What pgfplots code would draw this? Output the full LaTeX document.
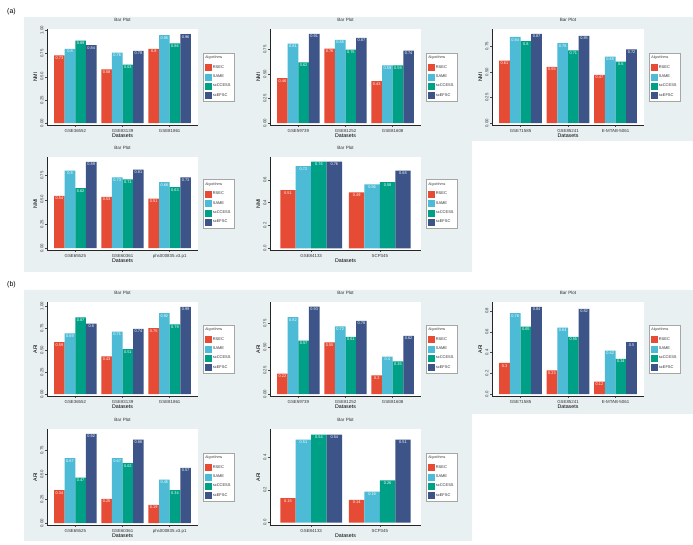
\documentclass[border=0pt]{standalone}
\usepackage{pgfplots}
\pgfplotsset{compat=1.18}
\usepackage{fontspec}
\setmainfont{Liberation Sans}
\definecolor{cR}{RGB}{230,75,53}
\definecolor{cS}{RGB}{77,187,213}
\definecolor{cC}{RGB}{0,160,135}
\definecolor{cE}{RGB}{60,84,136}
\definecolor{bgc}{RGB}{233,240,242}
\newcommand\fs[1]{\fontsize{#1}{#1}\selectfont}
\pgfkeys{/pgf/number format/assume math mode=true}
\pgfplotsset{
  bp/.style={
    scale only axis, width=151bp, height=95bp, anchor=south west,
    axis x line*=bottom, axis y line*=left,
    axis line style={line width=0.45bp, black!85, -},
    axis background/.style={fill=white},
    xmin=0.4, xmax=3.6, xtick={1,2,3},
    major tick length=1.8bp, tick align=outside,
    tick style={line width=0.4bp, black!70},
    xticklabel style={font=\fs{4.4}, text=black!80, inner sep=0pt},
    xticklabel shift=2.2bp,
    yticklabel style={font=\fs{4.3}, text=black!80, rotate=90, anchor=south, inner sep=0pt},
    yticklabel shift=1.6bp,
    title={Bar Plot},
    title style={font=\fs{4.6}, text=black!80, at={(0.5,1)}, anchor=south, yshift=1.5bp, inner sep=0pt},
    xlabel={Datasets},
    xlabel style={font=\fs{5.3}, at={(axis description cs:0.5,0)}, anchor=north, yshift=-9bp, inner sep=0pt},
    ylabel style={font=\fs{5.3}, inner sep=0pt, at={(axis description cs:-0.077,0.5)}, anchor=center},
    nodes near coords={\pgfmathprintnumber[fixed,precision=2]{\pgfplotspointmeta}},
    every node near coord/.append style={font=\fs{3.9}, text=white, anchor=north, inner sep=1.1bp},
    legend style={at={(1,0.5)}, anchor=west, xshift=5bp, draw=black!35, line width=0.3bp,
      fill=white, font=\fs{4.0}, text=black!80, inner sep=1.4bp, row sep=1.1bp,
      cells={anchor=west}},
    legend cell align=left,
  },
  two/.style={xmin=0.4, xmax=2.6, xtick={1,2}},
  bR/.style={ybar, bar width=0.225, bar shift=0, fill=cR, draw=none, forget plot},
  bS/.style={ybar, bar width=0.225, bar shift=0, fill=cS, draw=none, forget plot},
  bC/.style={ybar, bar width=0.225, bar shift=0, fill=cC, draw=none, forget plot},
  bE/.style={ybar, bar width=0.225, bar shift=0, fill=cE, draw=none, forget plot},
  lR/.style={legend image code/.code={\fill[cR] (0bp,-3bp) rectangle (6bp,3bp);}},
  lS/.style={legend image code/.code={\fill[cS] (0bp,-3bp) rectangle (6bp,3bp);}},
  lC/.style={legend image code/.code={\fill[cC] (0bp,-3bp) rectangle (6bp,3bp);}},
  lE/.style={legend image code/.code={\fill[cE] (0bp,-3bp) rectangle (6bp,3bp);}},
  q4/.style={ytick={0,0.25,0.5,0.75,1}, yticklabels={0.00,0.25,0.50,0.75,1.00}},
  q3/.style={ytick={0,0.25,0.5,0.75}, yticklabels={0.00,0.25,0.50,0.75}},
  f4/.style={ytick={0,0.2,0.4,0.6,0.8}, yticklabels={0.0,0.2,0.4,0.6,0.8}},
  f3/.style={ytick={0,0.2,0.4,0.6}, yticklabels={0.0,0.2,0.4,0.6}},
  f2/.style={ytick={0,0.2,0.4}, yticklabels={0.0,0.2,0.4}},
}
\newcommand\Leg{%
  \addlegendimage{empty legend}\addlegendentry{\hspace*{-7.5bp}\fs{3.6}Algorithms}
  \addlegendimage{lR}\addlegendentry{RSEC}
  \addlegendimage{lS}\addlegendentry{SAME}
  \addlegendimage{lC}\addlegendentry{scCCESS}
  \addlegendimage{lE}\addlegendentry{scEFSC}}
\begin{document}
\begin{tikzpicture}[x=1bp,y=1bp]
\fill[white] (0,0) rectangle (693,545);
\fill[bgc] (24,528) -- (693,528) -- (693,404) -- (472,404) -- (472,273) -- (24,273) -- cycle;
\fill[bgc] (24,255) -- (693,255) -- (693,131) -- (472,131) -- (472,4) -- (24,4) -- cycle;
\node[anchor=west, font=\fs{7}, inner sep=0pt] at (7,533) {(a)};
\node[anchor=west, font=\fs{7}, inner sep=0pt] at (7,260) {(b)};

% ---------- (a) row 1 ----------
\begin{axis}[bp, q4, at={(47bp,420bp)}, height=96bp, ymin=-0.02, ymax=1.015, ylabel={NMI},
  xticklabels={GSE36552,GSE83139,GSE81861}]
\addplot[bR] coordinates {(0.6625,0.73) (1.6625,0.58) (2.6625,0.80)};
\addplot[bS] coordinates {(0.8875,0.80) (1.8875,0.76) (2.8875,0.95)};
\addplot[bC] coordinates {(1.1125,0.89) (2.1125,0.63) (3.1125,0.86)};
\addplot[bE] coordinates {(1.3375,0.84) (2.3375,0.78) (3.3375,0.96)};
\Leg
\end{axis}

\begin{axis}[bp, q3, at={(270bp,420bp)}, height=96bp, ymin=-0.018, ymax=0.96, ylabel={NMI},
  xticklabels={GSE59739,GSE81252,GSE81608}]
\addplot[bR] coordinates {(0.6625,0.46) (1.6625,0.76) (2.6625,0.43)};
\addplot[bS] coordinates {(0.8875,0.81) (1.8875,0.85) (2.8875,0.59)};
\addplot[bC] coordinates {(1.1125,0.62) (2.1125,0.75) (3.1125,0.59)};
\addplot[bE] coordinates {(1.3375,0.91) (2.3375,0.87) (3.3375,0.74)};
\Leg
\end{axis}

\begin{axis}[bp, q3, at={(492bp,420bp)}, width=152bp, height=96bp, ymin=-0.017, ymax=0.918, ylabel={NMI},
  xticklabels={GSE71585,GSE85241,E-MTAB-5061}]
\addplot[bR] coordinates {(0.6625,0.61) (1.6625,0.55) (2.6625,0.47)};
\addplot[bS] coordinates {(0.8875,0.84) (1.8875,0.78) (2.8875,0.65)};
\addplot[bC] coordinates {(1.1125,0.80) (2.1125,0.71) (3.1125,0.60)};
\addplot[bE] coordinates {(1.3375,0.87) (2.3375,0.85) (3.3375,0.72)};
\Leg
\end{axis}

% ---------- (a) row 2 ----------
\begin{axis}[bp, q3, at={(47bp,295bp)}, height=93bp, ymin=-0.018, ymax=0.94, ylabel={NMI},
  xticklabels={GSE65525,GSE60361,phs000835.v3.p1}]
\addplot[bR] coordinates {(0.6625,0.54) (1.6625,0.53) (2.6625,0.51)};
\addplot[bS] coordinates {(0.8875,0.80) (1.8875,0.73) (2.8875,0.68)};
\addplot[bC] coordinates {(1.1125,0.62) (2.1125,0.71) (3.1125,0.63)};
\addplot[bE] coordinates {(1.3375,0.89) (2.3375,0.81) (3.3375,0.73)};
\Leg
\end{axis}

\begin{axis}[bp, two, f3, at={(270bp,295bp)}, height=93bp, ymin=-0.015, ymax=0.80, ylabel={NMI},
  xticklabels={GSE84133,SCP345}]
\addplot[bR] coordinates {(0.6625,0.51) (1.6625,0.49)};
\addplot[bS] coordinates {(0.8875,0.72) (1.8875,0.56)};
\addplot[bC] coordinates {(1.1125,0.76) (2.1125,0.58)};
\addplot[bE] coordinates {(1.3375,0.76) (2.3375,0.68)};
\Leg
\end{axis}

% ---------- (b) row 1 ----------
\begin{axis}[bp, q4, at={(47bp,149bp)}, height=94bp, ymin=-0.02, ymax=1.045, ylabel={ARI},
  xticklabels={GSE36552,GSE83139,GSE81861}]
\addplot[bR] coordinates {(0.6625,0.59) (1.6625,0.43) (2.6625,0.75)};
\addplot[bS] coordinates {(0.8875,0.69) (1.8875,0.71) (2.8875,0.92)};
\addplot[bC] coordinates {(1.1125,0.87) (2.1125,0.51) (3.1125,0.79)};
\addplot[bE] coordinates {(1.3375,0.80) (2.3375,0.74) (3.3375,0.99)};
\Leg
\end{axis}

\begin{axis}[bp, q3, at={(270bp,149bp)}, height=94bp, ymin=-0.019, ymax=0.98, ylabel={ARI},
  xticklabels={GSE59739,GSE81252,GSE81608}]
\addplot[bR] coordinates {(0.6625,0.22) (1.6625,0.55) (2.6625,0.20)};
\addplot[bS] coordinates {(0.8875,0.82) (1.8875,0.72) (2.8875,0.40)};
\addplot[bC] coordinates {(1.1125,0.57) (2.1125,0.61) (3.1125,0.35)};
\addplot[bE] coordinates {(1.3375,0.93) (2.3375,0.78) (3.3375,0.62)};
\Leg
\end{axis}

\begin{axis}[bp, f4, at={(492bp,149bp)}, width=152bp, height=94bp, ymin=-0.017, ymax=0.886, ylabel={ARI},
  xticklabels={GSE71585,GSE85241,E-MTAB-5061}]
\addplot[bR] coordinates {(0.6625,0.30) (1.6625,0.23) (2.6625,0.12)};
\addplot[bS] coordinates {(0.8875,0.78) (1.8875,0.64) (2.8875,0.42)};
\addplot[bC] coordinates {(1.1125,0.65) (2.1125,0.55) (3.1125,0.34)};
\addplot[bE] coordinates {(1.3375,0.84) (2.3375,0.82) (3.3375,0.50)};
\Leg
\end{axis}

% ---------- (b) row 2 ----------
\begin{axis}[bp, q3, at={(47bp,20bp)}, height=96bp, ymin=-0.018, ymax=0.97, ylabel={ARI},
  xticklabels={GSE65525,GSE60361,phs000835.v3.p1}]
\addplot[bR] coordinates {(0.6625,0.34) (1.6625,0.25) (2.6625,0.19)};
\addplot[bS] coordinates {(0.8875,0.67) (1.8875,0.67) (2.8875,0.45)};
\addplot[bC] coordinates {(1.1125,0.47) (2.1125,0.62) (3.1125,0.34)};
\addplot[bE] coordinates {(1.3375,0.92) (2.3375,0.86) (3.3375,0.57)};
\Leg
\end{axis}

\begin{axis}[bp, two, f2, at={(270bp,20bp)}, height=96bp, ymin=-0.015, ymax=0.575, ylabel={ARI},
  xticklabels={GSE84133,SCP345}]
\addplot[bR] coordinates {(0.6625,0.15) (1.6625,0.14)};
\addplot[bS] coordinates {(0.8875,0.51) (1.8875,0.19)};
\addplot[bC] coordinates {(1.1125,0.54) (2.1125,0.26)};
\addplot[bE] coordinates {(1.3375,0.54) (2.3375,0.51)};
\Leg
\end{axis}

\pgfresetboundingbox
\path[use as bounding box] (0,0) rectangle (693,545);
\end{tikzpicture}
\end{document}
